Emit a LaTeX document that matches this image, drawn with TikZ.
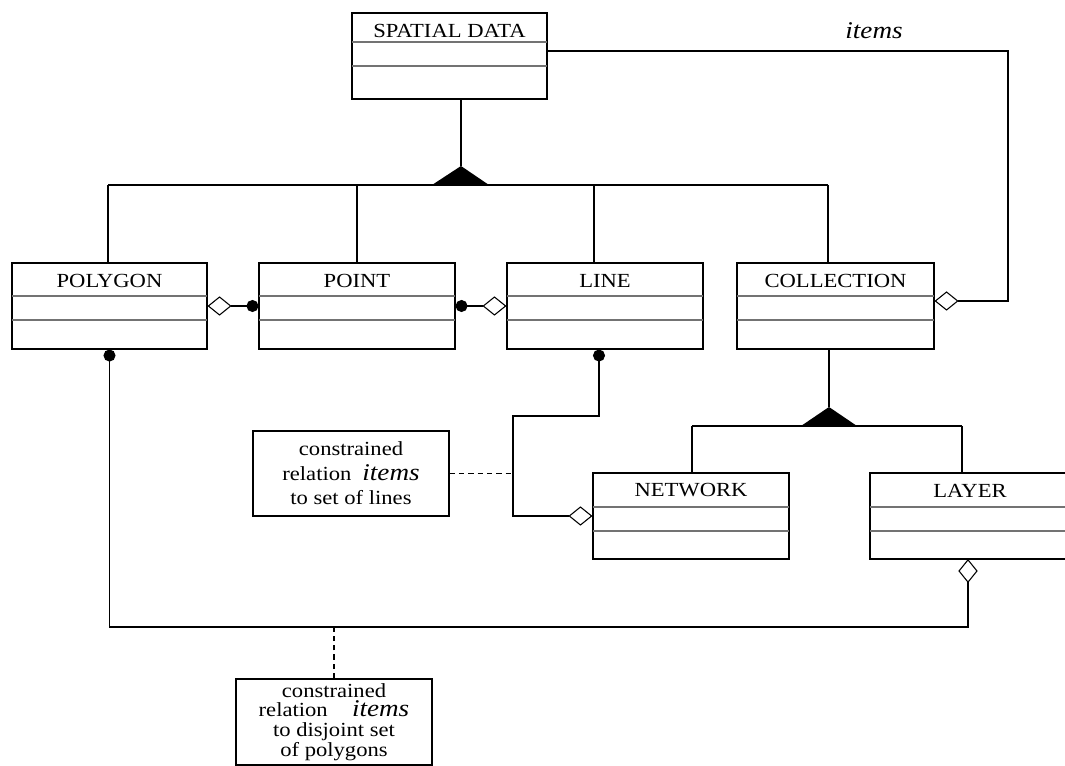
\documentclass[tikz,border=0pt]{standalone}
\usepackage{fontspec}
\setmainfont{Liberation Serif}[FakeStretch=1.13]
\usetikzlibrary{arrows.meta,calc}

\tikzset{
  aggr/.tip={Diamond[open,length=18pt,width=14.5pt]},
  ball/.tip={Circle[length=9pt]},
  classbox/.style={draw, line width=0.8pt, inner sep=0pt},
  divider/.style={draw=black!55, line width=0.8pt},
  classname/.style={font=\fontsize{15}{18}\selectfont, inner sep=0pt},
  link/.style={line width=0.8pt},
  anchorline/.style={line width=0.8pt, dash pattern=on 4pt off 3pt},
  notebox/.style={draw, line width=0.8pt, align=center, inner sep=0pt,
    minimum width=147pt, font=\fontsize{15}{18.4}\selectfont},
  rolename/.style={font=\fontsize{18}{20}\selectfont\itshape, inner sep=0pt},
}

% class box: name, left, top, right, bottom, divider offset, title (pixel units)
\newcommand\umlclass[7]{%
  \node[classbox, minimum width={(#4-#2)*0.75pt}, minimum height={(#5-#3)*0.75pt}]
    (#1) at ({(#2+#4)/2},{(#3+#5)/2}) {};
  \draw[divider] (#2,#3+#6) -- (#4,#3+#6);
  \draw[divider] (#2,#3+#6+24) -- (#4,#3+#6+24);
  \node[classname] (#1-name) at ({(#2+#4)/2},{#3+17.5}) {#7};
}

\begin{document}
\begin{tikzpicture}[x=0.75pt,y=-0.75pt]
\useasboundingbox (0,0) rectangle (1065,766);

% classes
\umlclass{spatial}{352}{13}{547}{99}{29}{SPATIAL DATA}
\umlclass{polygon}{12}{263}{207}{349}{33}{POLYGON}
\umlclass{point}{259}{263}{455}{349}{33}{POINT}
\umlclass{line}{507}{263}{703}{349}{33}{LINE}
\umlclass{collection}{737}{263}{934}{349}{33}{COLLECTION}
\umlclass{network}{593}{473}{789}{559}{34}{NETWORK}
\umlclass{layer}{870}{473}{1070}{559}{34}{LAYER}

% notes
\node[notebox, minimum height=63.75pt] (note1) at (351,473.5)
  {constrained\\relation\hspace{4pt} {\fontsize{18}{18.4}\selectfont\itshape items}\\to set of lines};
\node[notebox, minimum height=64.5pt, font=\fontsize{15}{14.8}\selectfont] (note2) at (334,722)
  {\lineskiplimit=-10pt constrained\\relation\hspace{14pt} {\fontsize{18}{14.8}\selectfont\itshape items}\\to disjoint set\\of polygons};

% generalization of SPATIAL DATA
\coordinate (g1top) at (461,166);
\draw[link] (spatial.south -| g1top) -- (g1top);
\fill (432,185) -- (g1top) -- (489,185) -- cycle;
\coordinate (tPolygon) at (108,185);
\coordinate (tPoint) at (357,185);
\coordinate (tLine) at (594,185);
\coordinate (tCollection) at (828,185);
\draw[link] (tPolygon) -- (tCollection);
\foreach \t/\c in {tPolygon/polygon, tPoint/point, tLine/line, tCollection/collection}
  \draw[link] (\t) -- (\t |- \c.north);

% generalization of COLLECTION
\coordinate (g2top) at (829,407);
\draw[link] (collection.south -| g2top) -- (g2top);
\fill (801,426) -- (g2top) -- (857,426) -- cycle;
\coordinate (tNetwork) at (692,426);
\coordinate (tLayer) at (962,426);
\draw[link] (tNetwork) -- (tLayer);
\draw[link] (tNetwork) -- (tNetwork |- network.north);
\draw[link] (tLayer) -- (tLayer |- layer.north);

% aggregations
\draw[link, {aggr}-{ball}] (polygon.east) -- (point.west);
\draw[link, {ball}-{aggr}] (point.east) -- (line.west);

\coordinate (itemsBend) at (1008,301);
\draw[link, -{aggr}] ([yshift=3.75pt]spatial.east) -| (itemsBend) -- (itemsBend -| collection.east);
\node[rolename] (itemsLabel) at (874,31) {items};

\coordinate (lnBend) at (513,416);
\draw[link, {ball}-{aggr}] ([xshift=-4.5pt]line.south) |- (lnBend) |- (network.west);

\coordinate (bus) at (0,627);
\coordinate (layerHook) at (968,559);
\draw[link, {ball}-{aggr}] (polygon.south) -- (polygon.south |- bus) -| (layerHook);

% note anchors
\draw[anchorline] (note1.east) -- (note1.east -| lnBend);
\draw[anchorline] (note2.north) -- (note2.north |- bus);
\end{tikzpicture}
\end{document}
